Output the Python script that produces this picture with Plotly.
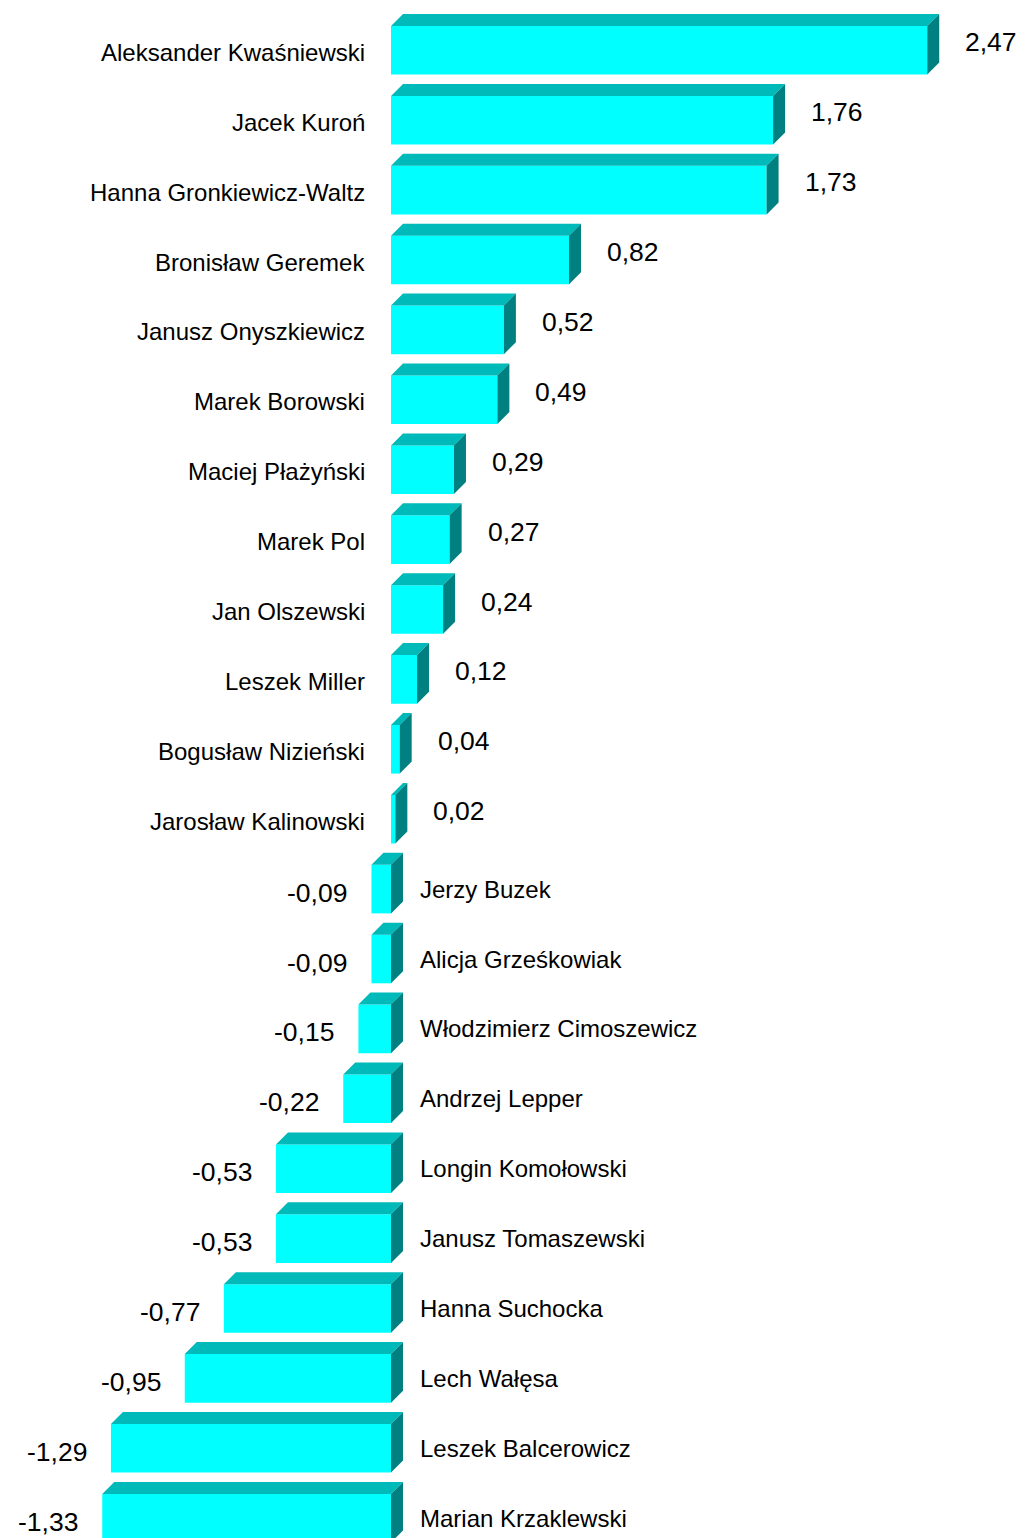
import plotly.graph_objects as go

names = [
    "Aleksander Kwaśniewski", "Jacek Kuroń", "Hanna Gronkiewicz-Waltz",
    "Bronisław Geremek", "Janusz Onyszkiewicz", "Marek Borowski",
    "Maciej Płażyński", "Marek Pol", "Jan Olszewski", "Leszek Miller",
    "Bogusław Nizieński", "Jarosław Kalinowski", "Jerzy Buzek",
    "Alicja Grześkowiak", "Włodzimierz Cimoszewicz", "Andrzej Lepper",
    "Longin Komołowski", "Janusz Tomaszewski", "Hanna Suchocka",
    "Lech Wałęsa", "Leszek Balcerowicz", "Marian Krzaklewski",
]
values = [2.47, 1.76, 1.73, 0.82, 0.52, 0.49, 0.29, 0.27, 0.24, 0.12, 0.04,
          0.02, -0.09, -0.09, -0.15, -0.22, -0.53, -0.53, -0.77, -0.95,
          -1.29, -1.33]
value_labels = [f"{v:.2f}".replace(".", ",") for v in values]

W, H = 1025, 1538
PAGE_OFFSET = 8  # default body margin of the html page
PX_PER_UNIT = 217.1
ZERO_PX = 391 - PAGE_OFFSET
ROW_PX = 69.9
FIRST_ROW_PX = 50.3 - PAGE_OFFSET
BAR_W = 48.6 / ROW_PX
DEPTH_PX = 12

xmin = -ZERO_PX / PX_PER_UNIT
xmax = (W - ZERO_PX) / PX_PER_UNIT
ymin_top = -FIRST_ROW_PX / ROW_PX
ymax_bot = (H - FIRST_ROW_PX) / ROW_PX
dx = DEPTH_PX / PX_PER_UNIT
dy = DEPTH_PX / ROW_PX

idx = list(range(len(values)))

FRONT = "#00FFFF"
TOP = "#00B9B9"
SIDE = "#008080"

fig = go.Figure()
fig.add_trace(go.Bar(x=values, y=idx, orientation="h", width=BAR_W,
                     marker=dict(color=FRONT, line=dict(width=0)),
                     hoverinfo="skip"))

tx, ty, sx, sy = [], [], [], []
for i, v in zip(idx, values):
    x0, x1 = min(v, 0), max(v, 0)
    yt = i - BAR_W / 2
    yb = i + BAR_W / 2
    tx += [x0, x0 + dx, x1 + dx, x1, x0, None]
    ty += [yt, yt - dy, yt - dy, yt, yt, None]
    sx += [x1, x1 + dx, x1 + dx, x1, x1, None]
    sy += [yt, yt - dy, yb - dy, yb, yt, None]

fig.add_trace(go.Scatter(x=tx, y=ty, mode="lines", fill="toself",
                         fillcolor=TOP, line=dict(width=0, color=TOP),
                         hoverinfo="skip", connectgaps=False))
fig.add_trace(go.Scatter(x=sx, y=sy, mode="lines", fill="toself",
                         fillcolor=SIDE, line=dict(width=0, color=SIDE),
                         hoverinfo="skip", connectgaps=False))

FONT = "Liberation Sans, Arial, sans-serif"
ann = []
for i, (n, v, lab) in enumerate(zip(names, values, value_labels)):
    if v >= 0:
        ann.append(dict(x=0, y=i, xref="x", yref="y", text=n, showarrow=False,
                        xanchor="right", yanchor="middle", xshift=-24, yshift=-2,
                        font=dict(family=FONT, size=24, color="black")))
        ann.append(dict(x=v, y=i, xref="x", yref="y", text=lab, showarrow=False,
                        xanchor="left", yanchor="middle", xshift=DEPTH_PX + 24,
                        yshift=8, font=dict(family=FONT, size=26.5, color="black")))
    else:
        ann.append(dict(x=0, y=i, xref="x", yref="y", text=n, showarrow=False,
                        xanchor="left", yanchor="middle", xshift=26.5, yshift=0,
                        font=dict(family=FONT, size=24, color="black")))
        ann.append(dict(x=v, y=i, xref="x", yref="y", text=lab, showarrow=False,
                        xanchor="right", yanchor="middle", xshift=-22,
                        yshift=-3.5, font=dict(family=FONT, size=26.5, color="black")))

fig.update_layout(
    width=W, height=H,
    margin=dict(l=0, r=0, t=0, b=0),
    paper_bgcolor="white", plot_bgcolor="white",
    showlegend=False,
    annotations=ann,
    xaxis=dict(range=[xmin, xmax], visible=False, fixedrange=True),
    yaxis=dict(range=[ymax_bot, ymin_top], visible=False, fixedrange=True),
)

fig.write_html("out.html")
